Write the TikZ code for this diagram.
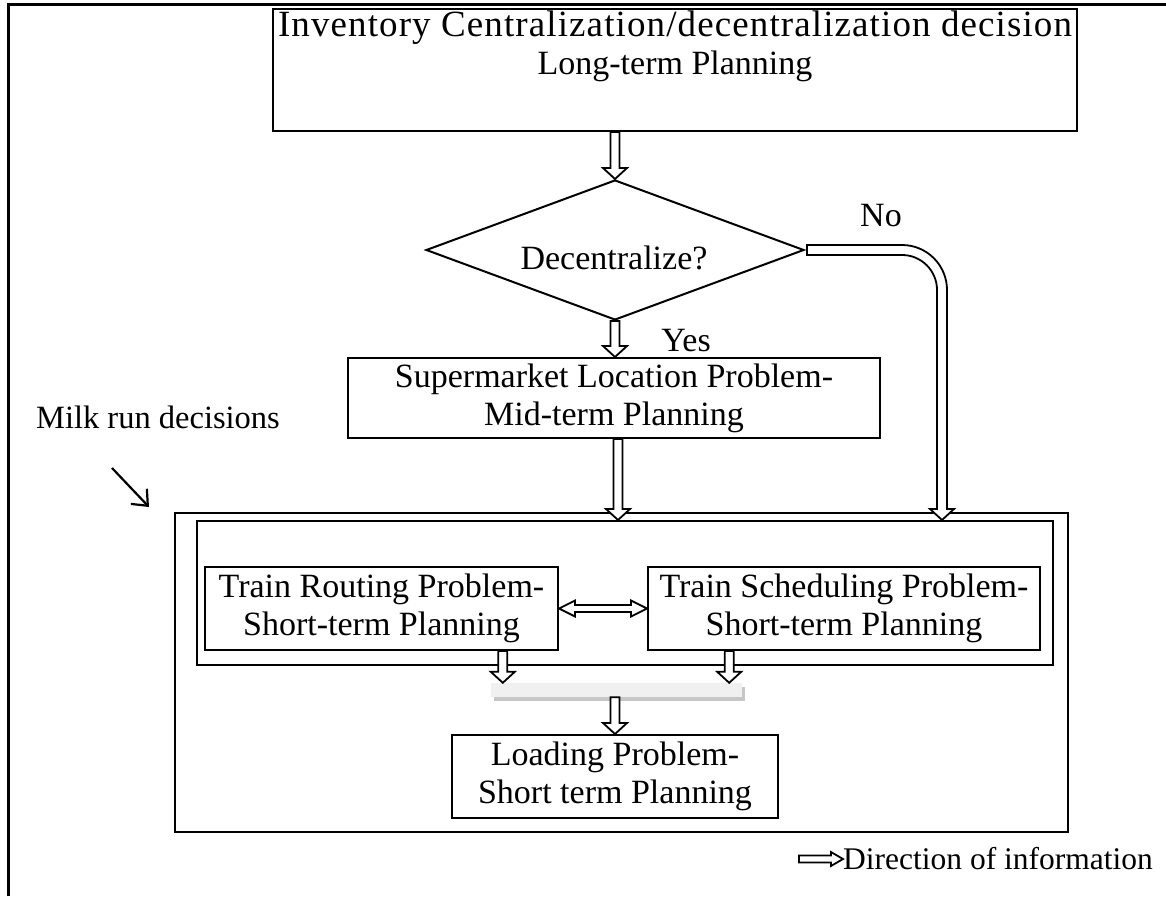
\documentclass[tikz,border=0pt]{standalone}
\usepackage{fontspec}
\setmainfont{Liberation Serif}
\usetikzlibrary{calc,shapes.geometric,arrows.meta,shadows}

\begin{document}
\begin{tikzpicture}[x=1pt,y=-1pt,
  txt/.style={font=\fontsize{34}{38}\selectfont, align=center, inner sep=0pt},
  small/.style={font=\fontsize{32.5}{36}\selectfont, align=center, inner sep=0pt},
  box/.style={draw, line width=2pt, inner sep=0pt, align=center,
    font=\fontsize{34}{38}\selectfont},
  % block arrow sizes: shaft half width, head half width, head length
  ablock/.code n args={3}{\def\baSW{#1}\def\baHW{#2}\def\baHL{#3}},
  flow/.style={draw, fill=white, line width=1.8pt, line join=miter,
    ablock={4.5pt}{12pt}{11pt},
    to path={let \p1=(\tikztostart), \p2=(\tikztotarget),
      \p3=($(\p2)!\baHL!(\p1)$) in
      ($(\p1)!\baSW!90:(\p2)$) -- ($(\p3)!\baSW!90:(\p2)$)
      -- ($(\p3)!\baHW!90:(\p2)$) -- (\p2)
      -- ($(\p3)!\baHW!-90:(\p2)$) -- ($(\p3)!\baSW!-90:(\p2)$)
      -- ($(\p1)!\baSW!-90:(\p2)$) -- cycle}},
  flowboth/.style={draw, fill=white, line width=1.8pt, line join=miter,
    ablock={3.5pt}{8pt}{16pt},
    to path={let \p1=(\tikztostart), \p2=(\tikztotarget),
      \p3=($(\p2)!\baHL!(\p1)$), \p4=($(\p1)!\baHL!(\p2)$) in
      (\p1) -- ($(\p4)!\baHW!90:(\p2)$) -- ($(\p4)!\baSW!90:(\p2)$)
      -- ($(\p3)!\baSW!90:(\p2)$) -- ($(\p3)!\baHW!90:(\p2)$) -- (\p2)
      -- ($(\p3)!\baHW!-90:(\p2)$) -- ($(\p3)!\baSW!-90:(\p2)$)
      -- ($(\p4)!\baSW!-90:(\p2)$) -- ($(\p4)!\baHW!-90:(\p2)$) -- cycle}},
  pointer/.style={draw, line width=2.2pt,
    -{Straight Barb[length=13pt,width=22pt,line width=2.2pt]}},
]
\useasboundingbox (0,0) rectangle (1166,896);

% outer frame
\draw[line width=3pt] (8.5,896) -- (8.5,4.5) -- (1166,4.5);

% strategic level
\node[box, minimum width=804pt, minimum height=122pt] (top) at (675,70) {};
\node[txt, font=\fontsize{37}{40}\selectfont] (toptext1) at (675,28)
  {\addfontfeatures{LetterSpace=3}Inventory Centralization/decentralization decision};
\node[txt] (toptext2) at (675,66) {Long-term Planning};

\node[draw, line width=2pt, shape=diamond, minimum width=378pt,
  minimum height=140pt, inner sep=0pt] (dec) at (615,250) {};
\node[txt] (dectext) at (614,258) {Decentralize?};
\node[txt] (no) at (881,216) {No};
\node[txt] (yes) at (686,341) {Yes};

\node[box, minimum width=532pt, minimum height=80pt] (sm) at (614,398)
  {Supermarket Location Problem-\\Mid-term Planning};

% milk run group
\node[small] (mrlabel) at (158,417) {Milk run decisions};
\node[box, minimum width=893pt, minimum height=319pt] (mr) at (621.5,672.5) {};
\node[box, minimum width=856pt, minimum height=144pt] (inner) at (625,593) {};
\node[box, minimum width=353pt, minimum height=83pt] (rt) at (381.5,608.5)
  {Train Routing Problem-\\Short-term Planning};
\node[box, minimum width=392pt, minimum height=83pt] (ts) at (844,608.5)
  {Train Scheduling Problem-\\Short-term Planning};
\node[fill=gray!12, minimum width=251pt, minimum height=14pt, inner sep=0pt,
  drop shadow={shadow xshift=3pt, shadow yshift=-4pt, fill=gray!45, opacity=1}]
  (bar) at (616.5,690) {};
\node[box, minimum width=326pt, minimum height=83pt] (ld) at (615,776.5)
  {Loading Problem-\\Short term Planning};

% legend
\node[small, font=\fontsize{31.5}{36}\selectfont, anchor=west] (legend) at (843,859)
  {Direction of information};
\coordinate (legtail) at (799,859);

% connectors
\draw[flow] (top.south -| dec.north) to (dec.north);
\draw[flow] (dec.south) to (dec.south |- sm.north);
\draw[flow] ([xshift=4pt]sm.south) to ([xshift=4pt]sm.south |- inner.north);

\coordinate (nox) at (942,0);
\draw[fill=white, line width=1.8pt, line join=miter]
  let \p1=(dec.east), \p2=(nox |- inner.north) in
  (\x1+2pt,\y1+5pt) -- (\x2-40pt,\y1+5pt)
  arc[start angle=90, end angle=0, radius=45pt]
  -- (\x2+5pt,\y2+11pt) -- (\x2+12pt,\y2+11pt) -- (\x2,\y2)
  -- (\x2-12pt,\y2+11pt) -- (\x2-5pt,\y2+11pt) -- (\x2-5pt,\y1-40pt)
  arc[start angle=0, end angle=90, radius=35pt]
  -- (\x1+2pt,\y1-5pt) -- cycle;

\draw[flowboth] (rt.east) to (ts.west);
\coordinate (b1) at ([xshift=12pt]bar.north west);
\coordinate (b2) at ([xshift=-13pt]bar.north east);
\draw[flow] (b1 |- rt.south) to (b1);
\draw[flow] (b2 |- ts.south) to (b2);
\draw[flow] (bar.south -| ld.north) to (ld.north);

\coordinate (ptail) at (112,468);
\coordinate (ptip) at ([xshift=-25pt,yshift=5pt]mr.north west);
\draw[pointer] (ptail) -- (ptip);

\draw[flow, ablock={3.5pt}{7pt}{12pt}] (legtail) to (legend.west);
\end{tikzpicture}
\end{document}
